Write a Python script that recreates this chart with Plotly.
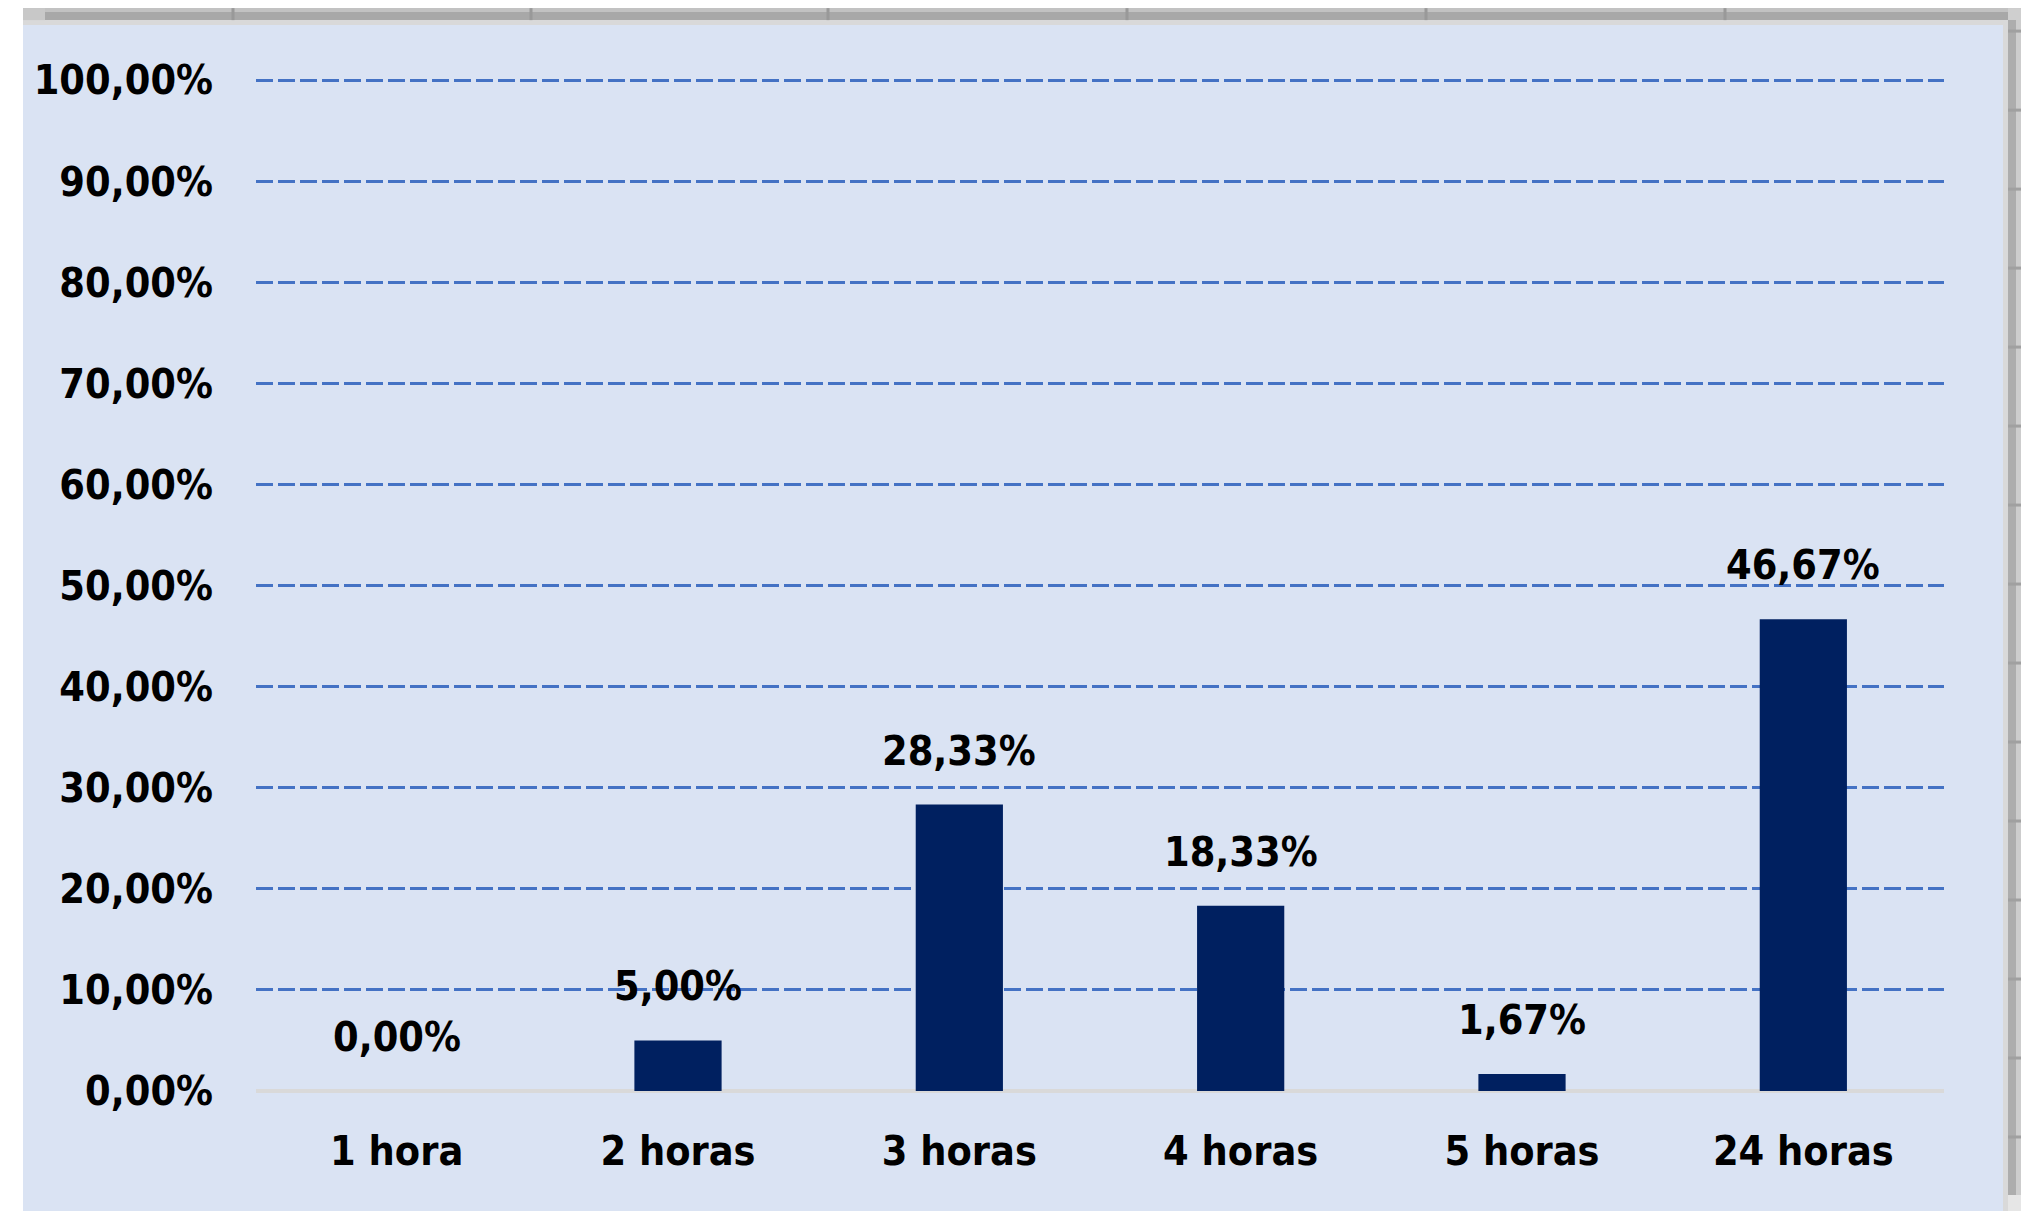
import plotly.graph_objects as go

categories = ["1 hora", "2 horas", "3 horas", "4 horas", "5 horas", "24 horas"]
values = [0.0, 0.05, 0.2833, 0.1833, 0.0167, 0.4667]
labels = [f"{v*100:.2f}".replace(".", ",") + "%" for v in values]

# page body has an 8px margin; work in screen pixels and offset
OFF = 8
W, H = 2029 - OFF, 1211 - OFF
# plot area in screen pixels: x 256..1944, y(1.0)=80, y(0)=1091
ML = 256 - OFF
MR = 2029 - 1944
YTOP_RANGE = 1.01
MB = 1211 - 1091
PH_1 = 1091 - 80  # pixels for 0..1
PH = PH_1 * YTOP_RANGE
MT = (1211 - MB - PH) - OFF
PW = 1944 - 256

def px(x):
    return (x - 256) / PW

def py(y):
    return (1091 - y) / PH

FONT = "DejaVu Sans Condensed, DejaVu Sans, sans-serif"
FS = 41

fig = go.Figure()
fig.add_trace(go.Bar(x=categories, y=values, marker=dict(color="#002060", line=dict(width=0)),
                     hoverinfo="skip"))

annotations = []
for c, v, t in zip(categories, values, labels):
    annotations.append(dict(x=c, y=v, text="<b>" + t + "</b>", showarrow=False, yanchor="middle",
                            yshift=54, font=dict(family=FONT, size=FS, color="#000000")))

def rect(x0, x1, y0, y1, color):
    return dict(type="rect", xref="paper", yref="paper", x0=px(x0), x1=px(x1),
                y0=py(y1), y1=py(y0), fillcolor=color, line=dict(width=0), layer="below")

def line(x0, x1, y0, y1, color, w):
    return dict(type="line", xref="paper", yref="paper", x0=px(x0), x1=px(x1),
                y0=py(y0), y1=py(y1), line=dict(color=color, width=w), layer="below")

shapes = []
# panel background
shapes.append(rect(23, 2003, 25, 1215, "#DAE3F3"))
# light gray border at top and right
shapes.append(rect(23, 2008, 20, 25, "#D9D9D9"))
shapes.append(rect(2003, 2008, 20, 1215, "#D9D9D9"))
# top gray header bar
shapes.append(rect(23, 2029, 12, 20, "#A8A8A8"))
shapes.append(rect(23, 2029, 8, 12, "#C2C2C2"))
shapes.append(rect(23, 45, 8, 20, "#C8C8C8"))
shapes.append(rect(2008, 2029, 8, 20, "#CFCFCF"))
for sx in [233, 531, 828, 1127, 1426, 1725]:
    shapes.append(line(sx, sx, 8, 20, "#999999", 3))
# right gray stripe
shapes.append(rect(2008, 2029, 20, 1215, "#CDCDCD"))
shapes.append(rect(2008, 2016, 20, 1215, "#ADADAD"))
shapes.append(rect(2008, 2029, 1195, 1215, "#E6E6E6"))
for sy in range(31, 1190, 79):
    shapes.append(line(2008, 2029, sy, sy, "#A0A0A0", 3))

fig.update_layout(
    width=W, height=H,
    margin=dict(l=ML, r=MR, t=MT, b=MB, pad=0),
    paper_bgcolor="#FFFFFF",
    plot_bgcolor="rgba(0,0,0,0)",
    separators=",.",
    bargap=0.69,
    showlegend=False,
    font=dict(family=FONT, color="#000000"),
    annotations=annotations,
    shapes=shapes,
)
fig.update_xaxes(
    type="category",
    tickfont=dict(family=FONT, size=FS, color="#000000", weight="bold"),
    showgrid=False, showline=False, ticks="", ticklabelstandoff=32,
)
fig.update_yaxes(
    range=[0, YTOP_RANGE],
    tickvals=[0, 0.1, 0.2, 0.3, 0.4, 0.5, 0.6, 0.7, 0.8, 0.9, 1.0],
    tickformat=".2%",
    tickfont=dict(family=FONT, size=FS, color="#000000", weight="bold"),
    showgrid=True, gridcolor="#4472C4", gridwidth=3, griddash="17px,5px",
    zeroline=True, zerolinecolor="#D9D9D9", zerolinewidth=4,
    showline=False, ticks="", ticklabelstandoff=42,
)
fig.update_traces(cliponaxis=False)

fig.write_html("out.html")
